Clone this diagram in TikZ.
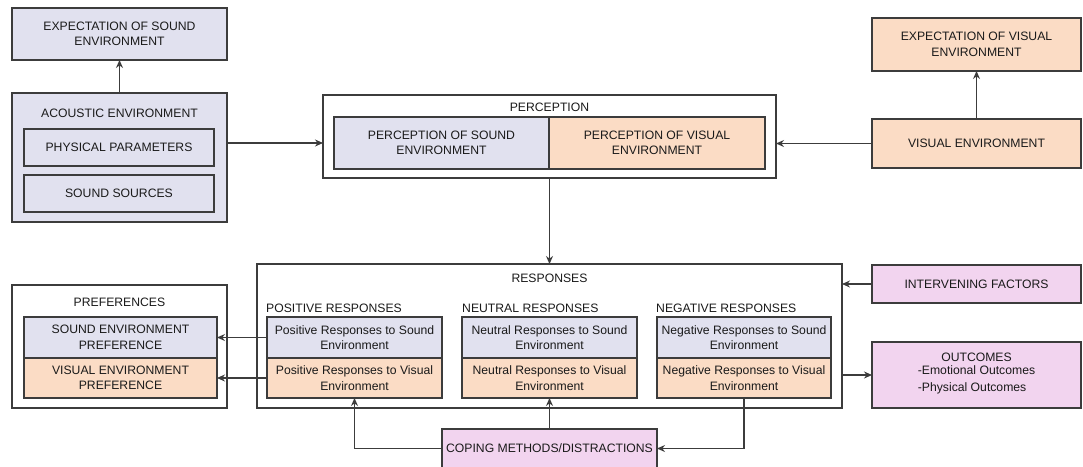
\documentclass[tikz,border=0pt]{standalone}
\usepackage{fontspec}
\setmainfont{Liberation Sans}
\usetikzlibrary{arrows.meta}

\definecolor{soundfill}{HTML}{E1E1EF}
\definecolor{visualfill}{HTML}{FBDCC5}
\definecolor{factorfill}{HTML}{F2D4EF}
\definecolor{edgegray}{HTML}{3C3C3C}
\definecolor{textgray}{HTML}{1A1A1A}

\tikzset{
  box/.style={draw=edgegray, line width=1.1pt, inner sep=2pt, outer sep=0pt,
    align=center, anchor=north west, text=textgray,
    font=\fontsize{12.2}{15.5}\selectfont},
  soundbox/.style={box, fill=soundfill},
  visualbox/.style={box, fill=visualfill},
  factorbox/.style={box, fill=factorfill},
  groupbox/.style={box, fill=white},
  label/.style={inner sep=0pt, text=textgray, font=\fontsize{12.2}{15.5}\selectfont},
  arr/.style={draw=edgegray, line width=1.1pt, -{Stealth[length=8pt,width=7pt]}},
  wh/.style 2 args={minimum width=#1pt, minimum height=#2pt}
}

\begin{document}
\begin{tikzpicture}[x=1pt, y=-1pt]
\useasboundingbox (0,0) rectangle (1083,466);

% sound side, top left
\node[soundbox, wh={215}{52}] (expS) at (12,8) {EXPECTATION OF SOUND\\ENVIRONMENT};
\node[soundbox, wh={215}{129}] (acoustic) at (12,93) {};
\node[label] (acousticT) at (119.5,113) {ACOUSTIC ENVIRONMENT};
\node[soundbox, wh={190}{37}] (phys) at (24,129) {PHYSICAL PARAMETERS};
\node[soundbox, wh={190}{37}] (src) at (24,175) {SOUND SOURCES};

% perception group
\node[groupbox, wh={453}{83}] (percO) at (323,95) {};
\node[label] (percT) at (549.5,107) {PERCEPTION};
\node[soundbox, wh={215}{52}] (percS) at (334,117) {PERCEPTION OF SOUND\\ENVIRONMENT};
\node[visualbox, wh={216}{52}] (percV) at (549,117) {PERCEPTION OF VISUAL\\ENVIRONMENT};

% visual side, top right
\node[visualbox, wh={209}{53}] (expV) at (872,18) {EXPECTATION OF VISUAL\\ENVIRONMENT};
\node[visualbox, wh={209}{49}] (visEnv) at (872,119) {VISUAL ENVIRONMENT};

% preferences group
\node[groupbox, wh={215}{123}] (pref) at (12,285) {};
\node[label] (prefT) at (119.5,302) {PREFERENCES};
\node[soundbox, wh={193}{41}] (prefS) at (24,317) {SOUND ENVIRONMENT\\PREFERENCE};
\node[visualbox, wh={193}{40}] (prefV) at (24,358) {VISUAL ENVIRONMENT\\PREFERENCE};

% responses group
\node[groupbox, wh={585}{144}] (resp) at (257,264) {};
\node[label] (respT) at (549.5,278) {RESPONSES};
\node[label, anchor=west] (posT) at (266,308) {POSITIVE RESPONSES};
\node[label, anchor=west] (neuT) at (462,308) {NEUTRAL RESPONSES};
\node[label, anchor=west] (negT) at (656,308) {NEGATIVE RESPONSES};
\node[soundbox, wh={175}{41}] (posS) at (267,317) {Positive Responses to Sound\\Environment};
\node[visualbox, wh={175}{40}] (posV) at (267,358) {Positive Responses to Visual\\Environment};
\node[soundbox, wh={175}{41}] (neuS) at (462,317) {Neutral Responses to Sound\\Environment};
\node[visualbox, wh={175}{40}] (neuV) at (462,358) {Neutral Responses to Visual\\Environment};
\node[soundbox, wh={174}{41}] (negS) at (657,317) {Negative Responses to Sound\\Environment};
\node[visualbox, wh={174}{40}] (negV) at (657,358) {Negative Responses to Visual\\Environment};

% factors
\node[factorbox, wh={209}{38}] (interv) at (872,265) {INTERVENING FACTORS};
\node[factorbox, wh={209}{66}] (outc) at (872,342)
  {OUTCOMES\\[1pt]\begin{tabular}{@{}l@{}}-Emotional Outcomes\\[1.5pt]-Physical Outcomes\end{tabular}};
\node[factorbox, wh={215}{39}] (coping) at (442,429) {COPING METHODS/DISTRACTIONS};

% connectors
\draw[arr] (acoustic.north) -- (expS.south);
\draw[arr] (acoustic.east |- percS.west) -- (percO.west |- percS.west);
\draw[arr] (visEnv.north) -- (expV.south);
\draw[arr] (visEnv.west) -- (percO.east |- visEnv.west);
\draw[arr] (percO.south) -- (resp.north);
\draw[arr] (interv.west) -- (resp.east |- interv.west);
\draw[arr] (resp.east |- outc.west) -- (outc.west);
\draw[arr] (posS.west) -- (prefS.east);
\draw[arr] (posV.west) -- (prefV.east);
\draw[arr] (coping.north) -- (neuV.south);
\draw[arr] (coping.west) -| (posV.south);
\draw[arr] (negV.south) |- (coping.east);
\end{tikzpicture}
\end{document}
